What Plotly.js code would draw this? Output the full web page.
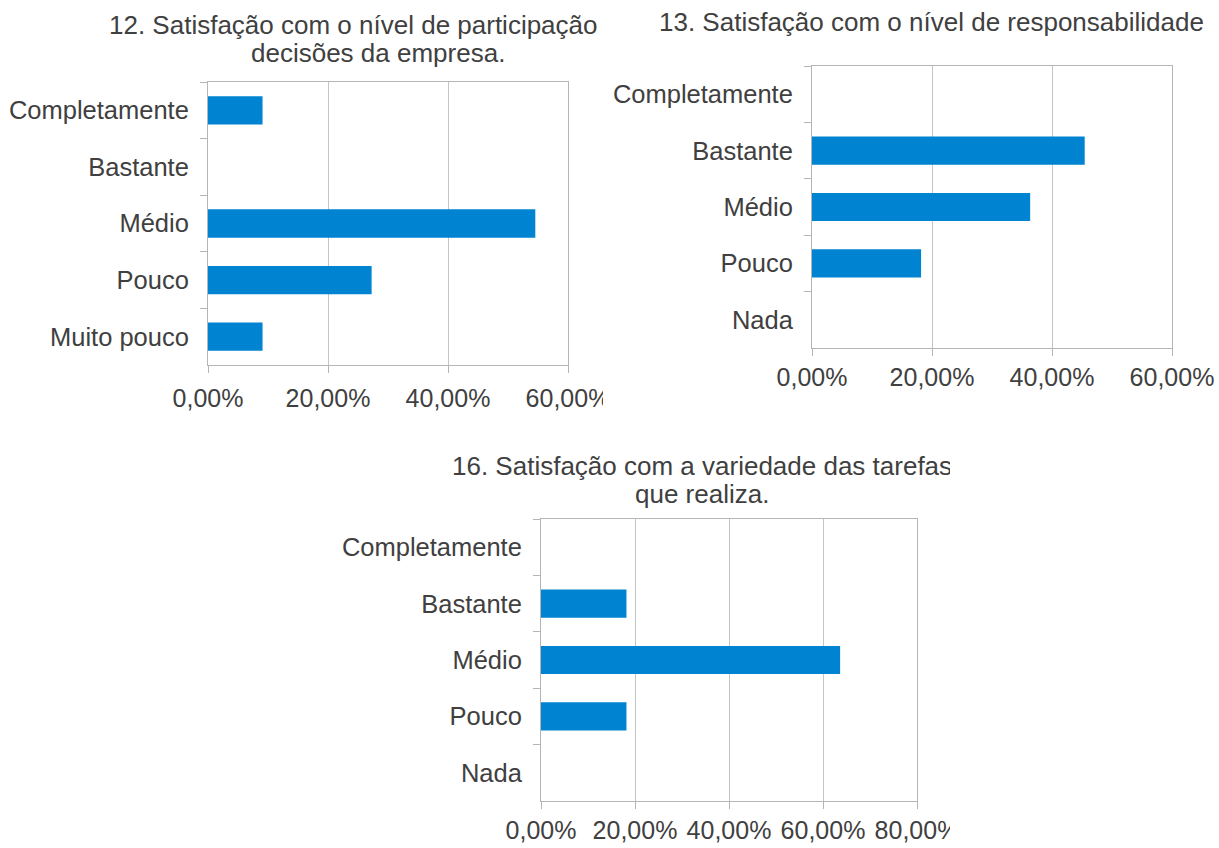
<!DOCTYPE html>
<html>
<head>
<meta charset="utf-8">
<script src="https://cdn.plot.ly/plotly-3.0.1.min.js"></script>
<style>
  html, body { margin: 0; padding: 0; background: #ffffff; overflow: hidden; width: 1219px; height: 848px; }
  .clip { position: absolute; overflow: hidden; }
</style>
</head>
<body>
<div id="w1" class="clip" style="left:0px; top:0px; width:603px; height:425px;"><div id="c1"></div></div>
<div id="w2" class="clip" style="left:606px; top:0px; width:613px; height:425px;"><div id="c2"></div></div>
<div id="w3" class="clip" style="left:330px; top:430px; width:620px; height:418px;"><div id="c3"></div></div>
<script>
// ---- data ----
const title1 = ['12. Satisfação com o nível de participação nas', 'decisões da empresa.'];
const categories1 = ['Completamente', 'Bastante', 'Médio', 'Pouco', 'Muito pouco'];
const values1 = [0.0909, 0, 0.5455, 0.2727, 0.0909];

const title2 = ['13. Satisfação com o nível de responsabilidade'];
const categories2 = ['Completamente', 'Bastante', 'Médio', 'Pouco', 'Nada'];
const values2 = [0, 0.4545, 0.3636, 0.1818, 0];

const title3 = ['16. Satisfação com a variedade das tarefas', 'que realiza.'];
const categories3 = ['Completamente', 'Bastante', 'Médio', 'Pouco', 'Nada'];
const values3 = [0, 0.1818, 0.6364, 0.1818, 0];

const xMax1 = 0.6, xMax2 = 0.6, xMax3 = 0.8;

// ---- styling ----
const FONT = 'Liberation Sans, Arial, sans-serif';
const TXT = '#404040';
const BAR = '#0083D0';
const GRID = '#c4c4c4';
const AXIS = '#b5b5b5';

function makeChart(id, cats, vals, titleLines, xmax, geo) {
  const W = geo.W, H = geo.H;
  const trace = {
    type: 'bar', orientation: 'h',
    y: cats, x: vals,
    marker: { color: BAR, line: { width: 0 } },
    hoverinfo: 'skip'
  };
  const annotations = titleLines.map((line, i) => ({
    text: line,
    xref: 'paper', yref: 'paper',
    x: (geo.tx - geo.l) / geo.pw,
    y: (geo.t + geo.ph - (geo.ty + i * 28)) / geo.ph,
    xanchor: 'center', yanchor: 'middle',
    showarrow: false,
    font: { family: FONT, size: 26, color: TXT }
  }));
  const layout = {
    width: W, height: H,
    margin: { l: geo.l, r: W - geo.l - geo.pw, t: geo.t, b: H - geo.t - geo.ph, pad: 0 },
    paper_bgcolor: '#ffffff', plot_bgcolor: '#ffffff',
    separators: ',.',
    font: { family: FONT, size: 25, color: TXT },
    bargap: 0.5,
    showlegend: false,
    annotations: annotations,
    xaxis: {
      range: [0, xmax], dtick: 0.2, tick0: 0,
      tickformat: '.2%',
      showgrid: true, gridcolor: GRID, gridwidth: 1,
      zeroline: false,
      showline: true, linecolor: AXIS, linewidth: 1, mirror: true,
      ticks: 'outside', ticklen: 7, tickcolor: AXIS, tickwidth: 1,
      tickfont: { family: FONT, size: 25, color: TXT },
      ticklabelstandoff: geo.xso,
      fixedrange: true
    },
    yaxis: {
      type: 'category',
      categoryorder: 'array', categoryarray: cats,
      autorange: 'reversed',
      tickson: 'boundaries',
      showgrid: false, zeroline: false,
      showline: true, linecolor: AXIS, linewidth: 1, mirror: true,
      ticks: 'outside', ticklen: 7, tickcolor: AXIS, tickwidth: 1,
      tickfont: { family: FONT, size: 25.5, color: TXT },
      ticklabelstandoff: 13,
      fixedrange: true
    }
  };
  Plotly.newPlot(id, [trace], layout, { staticPlot: true, displayModeBar: false });
}

makeChart('c1', categories1, values1, title1, xMax1,
  { W: 700, H: 425, l: 208, pw: 360, t: 82, ph: 283, tx: 378, ty: 25, xso: 4 });
makeChart('c2', categories2, values2, title2, xMax2,
  { W: 700, H: 425, l: 206, pw: 360, t: 66, ph: 282, tx: 325, ty: 22, xso: 0 });
makeChart('c3', categories3, values3, title3, xMax3,
  { W: 700, H: 418, l: 211, pw: 376, t: 89, ph: 282, tx: 372, ty: 36, xso: 0 });
</script>
</body>
</html>
